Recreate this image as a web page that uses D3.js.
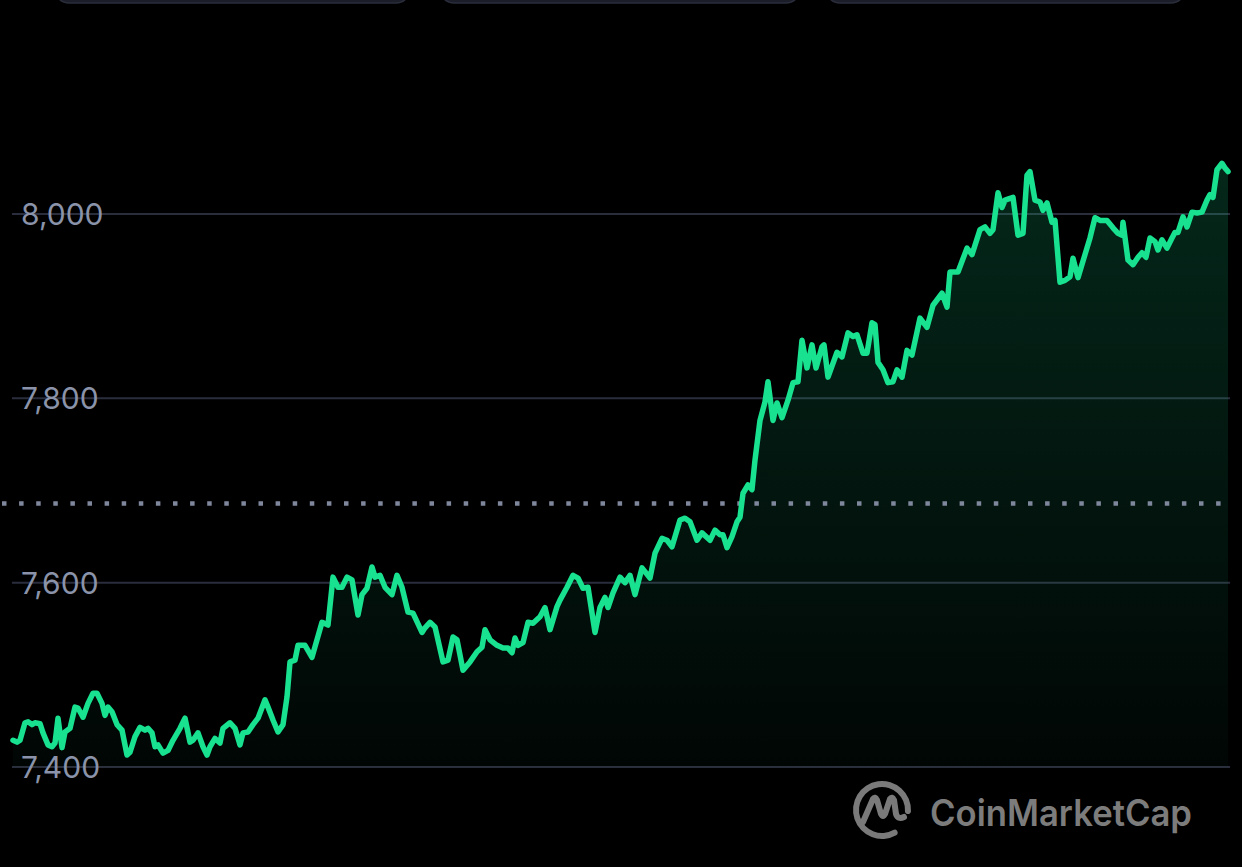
<!DOCTYPE html>
<html>
<head>
<meta charset="utf-8">
<script src="https://cdn.jsdelivr.net/npm/d3@7/dist/d3.min.js"></script>
<style>
  html, body { margin: 0; padding: 0; background: #000; }
  svg { display: block; }
</style>
</head>
<body>
<svg id="chart" width="1242" height="867"></svg>
<script>
// ---- data ----
// minutes since the first point
const minutes = [
  0,4,7,12,15,19,22,27,30,35,
  39,42,45,49,52,57,62,65,70,75,
  80,84,89,92,95,99,104,109,114,117,
  122,127,132,135,139,142,145,150,155,160,
  167,172,177,180,185,190,194,197,202,207,
  210,217,222,227,230,235,240,245,252,255,
  260,265,270,274,277,282,285,292,299,309,
  315,320,325,329,334,339,345,349,354,359,
  362,367,372,379,384,389,395,400,409,412,
  417,422,430,435,440,444,450,457,464,469,
  472,477,484,490,495,499,502,505,510,515,
  520,527,532,537,544,547,554,560,565,570,
  575,582,587,592,595,600,607,612,617,622,
  629,637,642,649,654,659,667,672,677,684,
  689,697,702,707,710,714,719,724,727,730,
  735,739,742,747,752,755,760,764,769,775,
  780,785,789,794,799,803,809,811,815,824,
  829,835,840,844,850,854,859,862,865,870,
  875,880,884,889,894,899,907,914,920,929,
  934,937,945,954,959,967,972,977,980,985,
  989,992,997,1000,1005,1010,1014,1017,1022,1027,
  1030,1034,1039,1042,1047,1052,1057,1060,1065,1072,
  1077,1082,1087,1094,1100,1105,1109,1110,1115,1120,
  1125,1129,1133,1137,1142,1145,1149,1154,1159,1162,
  1165,1170,1174,1179,1184,1189,1194,1197,1200,1204,
  1209,1212,1215
];
const prices = [
  7429,7427,7429,7448,7449,7446,7448,7447,7437,7424,
  7422,7426,7453,7421,7438,7442,7465,7464,7454,7469,
  7480,7480,7469,7456,7465,7460,7446,7440,7413,7416,
  7433,7443,7440,7442,7437,7422,7424,7415,7418,7429,
  7442,7453,7427,7429,7437,7422,7413,7422,7431,7426,
  7442,7448,7442,7424,7437,7438,7446,7453,7473,7465,
  7451,7438,7446,7476,7514,7516,7532,7532,7519,7557,
  7554,7606,7595,7595,7606,7603,7565,7587,7594,7617,
  7606,7608,7595,7587,7608,7595,7568,7567,7546,7551,
  7557,7552,7514,7516,7541,7538,7505,7514,7525,7530,
  7549,7538,7532,7529,7529,7524,7540,7532,7535,7557,
  7556,7563,7573,7549,7574,7581,7595,7608,7605,7594,
  7595,7546,7573,7584,7573,7589,7606,7600,7608,7587,
  7616,7605,7632,7648,7646,7639,7668,7670,7666,7646,
  7654,7646,7657,7652,7652,7638,7650,7666,7671,7697,
  7706,7701,7733,7776,7796,7818,7776,7795,7779,7798,
  7817,7818,7863,7833,7858,7833,7856,7858,7823,7850,
  7845,7871,7867,7869,7849,7849,7882,7880,7839,7831,
  7817,7818,7831,7823,7852,7847,7887,7877,7901,7914,
  7899,7937,7937,7963,7956,7983,7986,7979,7983,8023,
  8007,8015,8017,8018,7977,7979,8042,8046,8015,8013,
  8004,8012,7991,7993,7926,7928,7932,7952,7931,7956,
  7974,7996,7993,7993,7985,7979,7977,7991,7950,7945,
  7953,7958,7953,7974,7970,7961,7972,7963,7974,7980,
  7980,7997,7986,8002,8001,8002,8015,8021,8018,8048,
  8055,8050,8046
];
const yTicks = [7400, 7600, 7800, 8000];
const referencePrice = 7686;   // dotted line (open price)
const brandName = "CoinMarketCap";

// ---- layout ----
const svg = d3.select("#chart");
const x = d3.scaleLinear().domain([0, 1215]).range([13, 1228]);
const y = d3.scaleLinear().domain([7400, 8000]).range([767, 214]);
const data = minutes.map((m, i) => ({ t: m, v: prices[i] }));

// top buttons (tab bar, cut off at the top)
const tabs = [[55, 410], [440, 800], [826, 1185]];
svg.append("g").selectAll("rect").data(tabs).join("rect")
  .attr("x", d => d[0]).attr("y", -40)
  .attr("width", d => d[1] - d[0]).attr("height", 43)
  .attr("rx", 14)
  .attr("fill", "#1b1d29").attr("stroke", "#2a2d3b").attr("stroke-width", 1.5);

// gradient
const defs = svg.append("defs");
const grad = defs.append("linearGradient").attr("id", "areaGrad")
  .attr("gradientUnits", "userSpaceOnUse")
  .attr("x1", 0).attr("x2", 0).attr("y1", y(8055)).attr("y2", y(7400));
grad.append("stop").attr("offset", "0%").attr("stop-color", "#16c784").attr("stop-opacity", 0.2);
grad.append("stop").attr("offset", "100%").attr("stop-color", "#16c784").attr("stop-opacity", 0.03);

// grid
const grid = svg.append("g").attr("class", "grid");
grid.selectAll("line").data(yTicks).join("line")
  .attr("x1", 12).attr("x2", 1230)
  .attr("y1", d => y(d)).attr("y2", d => y(d))
  .attr("stroke", "#2a2d3b").attr("stroke-width", 2);

// area
const area = d3.area().x(d => x(d.t)).y0(y(7400)).y1(d => y(d.v)).curve(d3.curveLinear);
svg.append("path").datum(data).attr("d", area).attr("fill", "url(#areaGrad)");

// reference dotted line
svg.append("line")
  .attr("x1", 2).attr("x2", 1222)
  .attr("y1", y(referencePrice)).attr("y2", y(referencePrice))
  .attr("stroke", "#7f879c").attr("stroke-width", 4.5)
  .attr("stroke-dasharray", "4.5 12.6");

// price line
const line = d3.line().x(d => x(d.t)).y(d => y(d.v)).curve(d3.curveLinear);
svg.append("path").datum(data).attr("d", line)
  .attr("fill", "none").attr("stroke", "#18e28f").attr("stroke-width", 5.5)
  .attr("stroke-linejoin", "round").attr("stroke-linecap", "round");

// y labels via axis
const yAxis = d3.axisLeft(y).tickValues(yTicks).tickSize(0).tickFormat(d3.format(","));
const ax = svg.append("g").call(yAxis);
ax.select(".domain").remove();
ax.selectAll("text")
  .attr("x", 21).attr("dy", "0.35em")
  .attr("text-anchor", "start")
  .attr("fill", "#8a93a9")
  .style("font-family", "Inter, 'Open Sans', sans-serif")
  .style("font-size", "30px")
  .style("font-weight", 400);

// watermark logo
const logo = svg.append("g").attr("transform", "translate(882,810)");
const ringArc = d3.arc().innerRadius(23).outerRadius(29)
  .startAngle(Math.PI * 0.80).endAngle(Math.PI * 2.55).cornerRadius(3);
logo.append("path").attr("d", ringArc()).attr("fill", "#7a7a7a");
logo.append("path")
  .attr("d", "M-19,12 L-9,-11 Q-7,-14 -5,-10 L-1,4 Q1,8 3,4 L8,-11 Q10,-14 12,-10 L14,4 Q16,10 22,7")
  .attr("fill", "none").attr("stroke", "#7a7a7a").attr("stroke-width", 6)
  .attr("stroke-linecap", "round").attr("stroke-linejoin", "round");

svg.append("text")
  .attr("x", 930).attr("y", 826)
  .attr("textLength", 262).attr("lengthAdjust", "spacingAndGlyphs")
  .attr("fill", "#7c7c7c")
  .style("font-family", "Inter, 'Open Sans', sans-serif")
  .style("font-size", "37px").style("font-weight", 600)
  .text(brandName);
</script>
</body>
</html>
